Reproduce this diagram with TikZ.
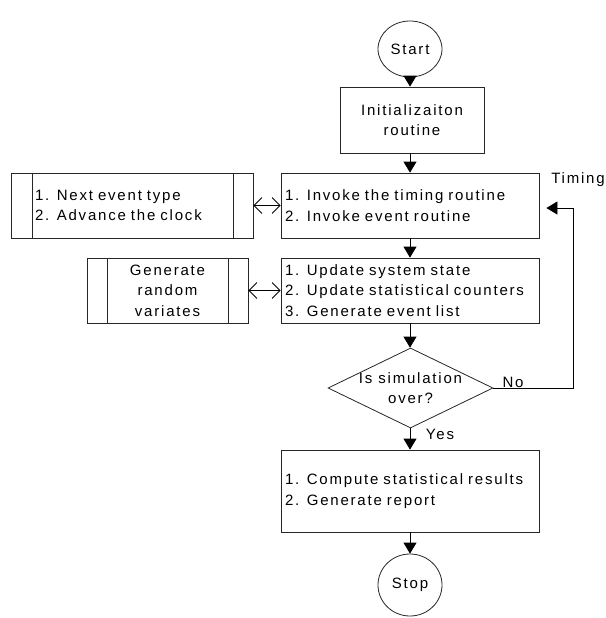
\documentclass[tikz,border=0pt]{standalone}
\usepackage{fontspec}
\setmainfont{Liberation Sans}[LetterSpace=12]
\usetikzlibrary{arrows.meta,shapes.geometric}

\tikzset{
  outline/.style={draw=black!85, line width=0.8pt},
  terminal/.style 2 args={outline, ellipse, minimum width=#1, minimum height=#2, inner sep=0pt},
  procbox/.style={outline, rectangle, inner sep=0pt, minimum height=#1},
  listbox/.style 2 args={procbox=#2, text width=#1-8pt, inner xsep=4pt, align=left},
  subproc/.style n args={4}{outline, rectangle, inner ysep=0pt, inner xsep=0pt,
    minimum width=#1, minimum height=#2,
    path picture={
      \draw[black!85, line width=0.8pt]
        ([xshift=#3]path picture bounding box.north west) --
        ([xshift=#3]path picture bounding box.south west)
        ([xshift=-#4]path picture bounding box.north east) --
        ([xshift=-#4]path picture bounding box.south east);
    }},
  decision/.style={outline, diamond, inner sep=0pt, minimum width=165pt, minimum height=80pt},
  flow/.style={line width=0.8pt, -{Triangle[length=11pt,width=13pt]}},
  twoway/.style={line width=0.8pt, {Straight Barb[length=8pt,width=16pt]}-{Straight Barb[length=8pt,width=16pt]}},
  tag/.style={inner sep=0pt}
}

\begin{document}
\begin{tikzpicture}[x=1pt, y=-1pt, every node/.style={font=\fontsize{15}{20.5}\selectfont}]
  \useasboundingbox (0,0) rectangle (605,618);

  % main column
  \node[terminal={64pt}{56pt}] (start) at (410,49) {Start};
  \node[procbox=66pt, minimum width=144pt, align=center] (init) at (412,120)
    {Initializaiton\\routine};
  \node[listbox={258pt}{65pt}] (invoke) at (410,205.5)
    {1. Invoke the timing routine\\2. Invoke event routine};
  \node[listbox={258pt}{65pt}] (update) at (410,290.5)
    {1. Update system state\\2. Update statistical counters\\3. Generate event list};
  \node[decision] (dec) at (410.5,388) {};
  \node[tag, align=center] (dectext) at (dec.center) {Is simulation\\over?};
  \node[listbox={258pt}{82pt}] (results) at (410,491)
    {1. Compute statistical results\\2. Generate report};
  \node[terminal={64pt}{62pt}] (stop) at (410,585) {Stop};

  % side routines
  \node[subproc={242pt}{65pt}{21pt}{20pt}, text width=194pt, inner xsep=24pt, align=left]
    (nextev) at (132,205.5) {1. Next event type\\2. Advance the clock};
  \node[subproc={161pt}{65pt}{20pt}{20pt}, align=center]
    (genrand) at (167.5,290.5) {Generate\\random\\variates};

  % main flow
  \draw[flow] (start.south) -- (start.south |- init.north);
  \draw[flow] (init.south -| start) -- (invoke.north -| start);
  \draw[flow] (invoke.south -| start) -- (update.north -| start);
  \draw[flow] (update.south -| start) -- (dec.north -| start);
  \draw[flow] (dec.south -| start) -- (results.north -| start);
  \draw[flow] (results.south -| start) -- (stop.north);

  % calls to the side routines
  \draw[twoway] (nextev.east) -- (invoke.west |- nextev.east);
  \draw[twoway] (genrand.east) -- (update.west |- genrand.east);

  % loop back to the timing routine
  \coordinate (loopx) at (573,0);
  \draw[flow, shorten >=7pt] (dec.east) -| (loopx |- 0,208) -- (invoke.east |- 0,208);

  % labels
  \node[tag] (nolbl) at (513,382.5) {No};
  \node[tag] (yeslbl) at (440,434) {Yes};
  \node[tag] (timinglbl) at (578,180) {Timing};
\end{tikzpicture}
\end{document}
